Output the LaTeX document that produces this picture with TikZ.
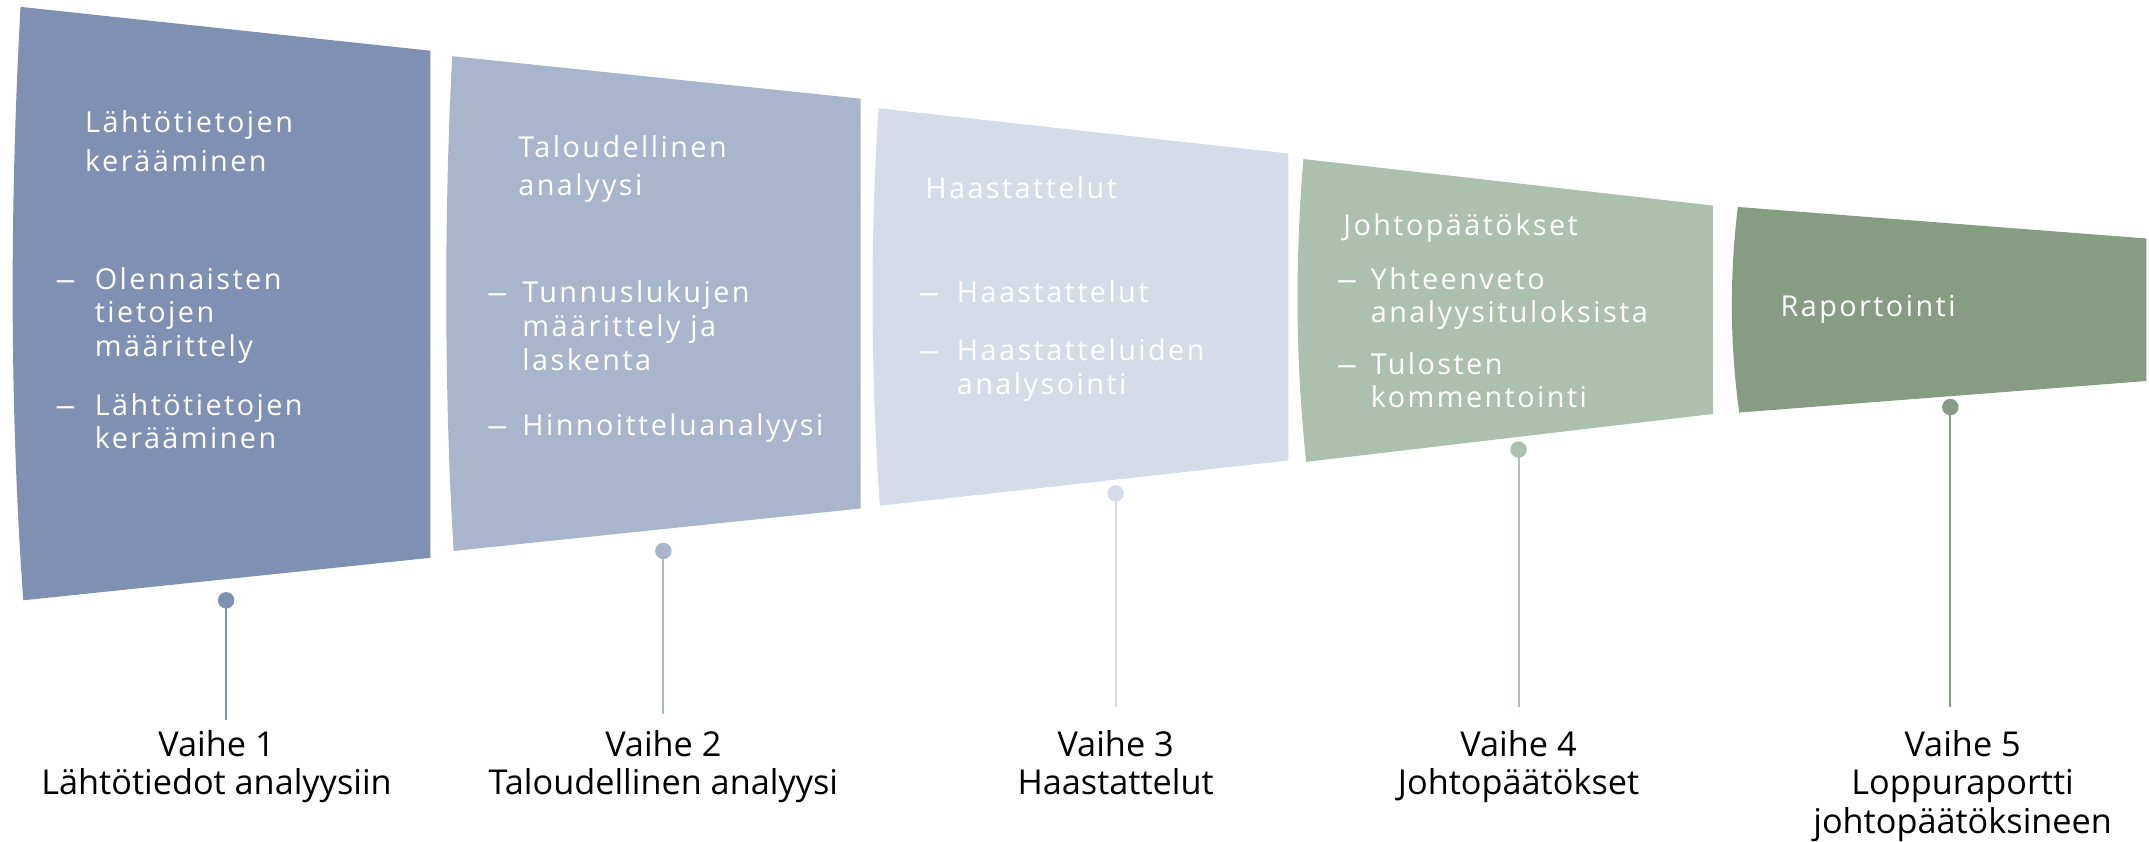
\documentclass[tikz,border=0pt]{standalone}
\usepackage{fontspec}
\setmainfont{Open Sans}
\newfontfamily\boxfont[LetterSpace=8.5]{Open Sans}
\definecolor{cA}{HTML}{7F91B3}
\definecolor{cB}{HTML}{A9B5CD}
\definecolor{cC}{HTML}{D5DCE7}
\definecolor{cD}{HTML}{ADBFAE}
\definecolor{cE}{HTML}{869D84}
\newcommand\mlines[1]{\begin{tabular}[t]{@{}l@{}}#1\end{tabular}}
\newcommand\clines[1]{\begin{tabular}[t]{@{}c@{}}#1\end{tabular}}
\newcommand\longdash{\scalebox{1.45}[1]{–}}
\begin{document}
\begin{tikzpicture}[x=1pt,y=-1pt,
  head/.style={anchor=base west, inner sep=0pt, text=white, font=\boxfont\fontsize{21}{28}\selectfont},
  item/.style={anchor=base west, inner sep=0pt, text=white, font=\boxfont\fontsize{21}{24.5}\selectfont},
  dashmark/.style={anchor=base west, inner sep=0pt, text=white, font=\boxfont\fontsize{21}{24.5}\selectfont},
  lab/.style={anchor=base, inner sep=0pt, text=black, font=\fontsize{25}{28}\selectfont},
  dot/.style={circle, inner sep=0pt, minimum size=12pt},
  stem/.style={line width=1.5pt}]
\useasboundingbox (0,0) rectangle (1568,614);

% funnel segments
\fill[cA] (15,5) -- (314,37) -- (314,407) -- (17,438) .. controls (7,300) and (7,150) .. cycle;
\fill[cB] (330,41) -- (628,72) -- (628,371) -- (331,402) .. controls (324,290) and (324,150) .. cycle;
\fill[cC] (641,79) -- (940,112) -- (940,336) -- (642,369) .. controls (635,270) and (635,170) .. cycle;
\fill[cD] (951,116) -- (1250,150) -- (1250,302) -- (953,337) .. controls (945,260) and (945,190) .. cycle;
\fill[cE] (1268,151) -- (1566,174) -- (1566,278) -- (1269,301) .. controls (1262,250) and (1262,200) .. cycle;

% segment 1 text
\node[head] (h1) at (62,97) {\mlines{Lähtötietojen\\kerääminen}};
\node[dashmark] (b1a) at (40,211) {\longdash};
\node[item] (t1a) at (69,211) {\mlines{Olennaisten\\tietojen\\määrittely}};
\node[dashmark] (b1b) at (40,303) {\longdash};
\node[item] (t1b) at (69,303) {\mlines{Lähtötietojen\\kerääminen}};

% segment 2 text
\node[head] (h2) at (378,115) {\mlines{Taloudellinen\\analyysi}};
\node[dashmark] (b2a) at (355,221) {\longdash};
\node[item] (t2a) at (381,221) {\mlines{Tunnuslukujen\\määrittely ja\\laskenta}};
\node[dashmark] (b2b) at (355,318) {\longdash};
\node[item] (t2b) at (381,318) {Hinnoitteluanalyysi};

% segment 3 text
\node[head] (h3) at (675,145) {Haastattelut};
\node[dashmark] (b3a) at (670,221) {\longdash};
\node[item] (t3a) at (698,221) {Haastattelut};
\node[dashmark] (b3b) at (670,263) {\longdash};
\node[item] (t3b) at (698,263) {\mlines{Haastatteluiden\\analysointi}};

% segment 4 text
\node[head] (h4) at (980,172) {Johtopäätökset};
\node[dashmark] (b4a) at (975,211) {\longdash};
\node[item] (t4a) at (1000,211) {\mlines{Yhteenveto\\analyysituloksista}};
\node[dashmark] (b4b) at (975,273) {\longdash};
\node[item] (t4b) at (1000,273) {\mlines{Tulosten\\kommentointi}};

% segment 5 text
\node[head] (h5) at (1299,231) {Raportointi};

% markers, stems and labels
\node[dot, fill=cA] (d1) at (165,438) {};
\node[dot, fill=cB] (d2) at (484,402) {};
\node[dot, fill=cC] (d3) at (814,360) {};
\node[dot, fill=cD] (d4) at (1108,328) {};
\node[dot, fill=cE] (d5) at (1423,297) {};

\node[lab] (l1) at (158,552) {\clines{Vaihe 1\\Lähtötiedot analyysiin}};
\node[lab] (l2) at (484,552) {\clines{Vaihe 2\\Taloudellinen analyysi}};
\node[lab] (l3) at (814,552) {\clines{Vaihe 3\\Haastattelut}};
\node[lab] (l4) at (1108,552) {\clines{Vaihe 4\\Johtopäätökset}};
\node[lab] (l5) at (1432,552) {\clines{Vaihe 5\\Loppuraportti\\johtopäätöksineen}};

\coordinate (e1) at (165,525);
\coordinate (e2) at (484,521);
\coordinate (e3) at (814,516);
\coordinate (e4) at (1108,516);
\coordinate (e5) at (1423,516);
\draw[stem, cA] (d1.center) -- (e1);
\draw[stem, cB] (d2.center) -- (e2);
\draw[stem, cC] (d3.center) -- (e3);
\draw[stem, cD] (d4.center) -- (e4);
\draw[stem, cE] (d5.center) -- (e5);
\end{tikzpicture}
\end{document}
